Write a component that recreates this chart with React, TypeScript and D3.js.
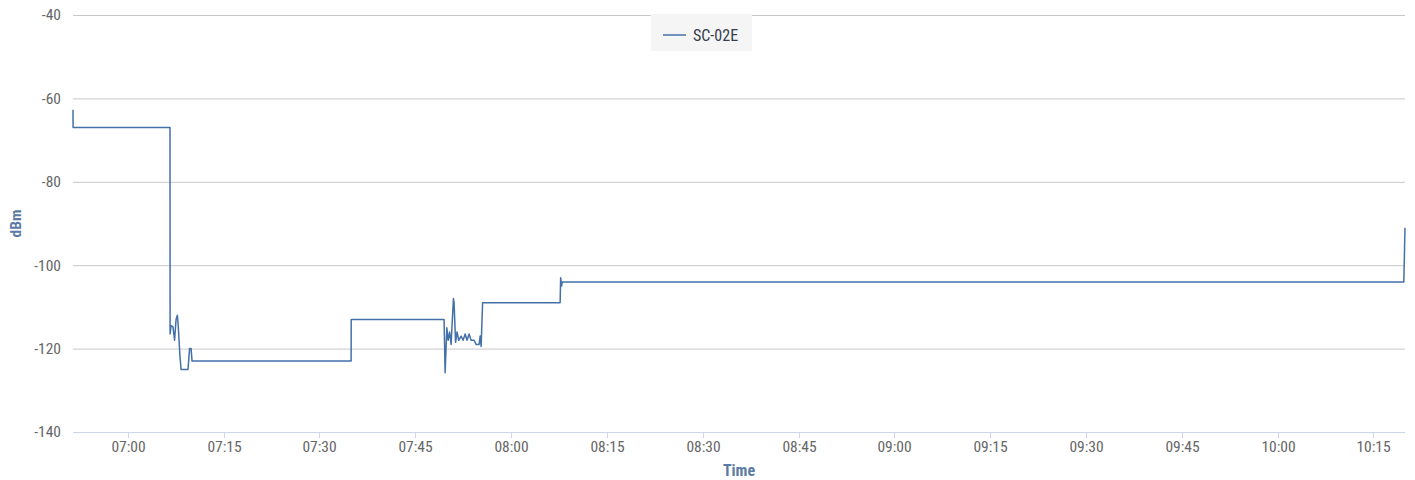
import * as d3 from "d3";
import { useEffect, useRef } from "react";

// Signal readings for SC-02E (time of day, dBm).
const times = [
  "06:51:26", "06:51:27", "07:06:37", "07:06:38", "07:06:47", "07:07:05", "07:07:20",
  "07:07:34", "07:07:46", "07:07:53", "07:08:11", "07:08:21", "07:09:26", "07:09:41",
  "07:09:55", "07:10:04", "07:34:58", "07:34:59", "07:49:31", "07:49:41", "07:49:57",
  "07:50:09", "07:50:23", "07:50:37", "07:50:59", "07:51:05", "07:51:19", "07:51:33",
  "07:51:48", "07:52:11", "07:52:30", "07:52:49", "07:53:07", "07:53:26", "07:53:45",
  "07:54:13", "07:54:32", "07:55:00", "07:55:10", "07:55:19", "07:55:33", "08:07:41",
  "08:07:46", "08:07:55", "08:08:00", "10:19:45", "10:19:56",
];
const values = [
  -62.7, -67, -67, -116.5, -114.5, -114.8, -118,
  -113, -112, -114, -122, -125, -125, -120,
  -120, -123, -123, -113, -113, -125.8, -115,
  -118, -116, -119, -108, -109, -118.5, -116,
  -118, -117, -118, -116.5, -118, -116.5, -118,
  -118, -119, -119, -117, -119.5, -109, -109,
  -103, -105, -104, -104, -91,
];
const yTicks = [-140, -120, -100, -80, -60, -40];
const seriesName = "SC-02E";

const W = 1415;
const H = 480;
const margin = { top: 15, right: 10, bottom: 48, left: 73 };
const FONT = "'Roboto Condensed', 'Liberation Sans Narrow', 'DejaVu Sans Condensed', Roboto, sans-serif";

const parse = d3.timeParse("%H:%M:%S");

export default function App() {
  const svgRef = useRef<SVGSVGElement>(null);

  useEffect(() => {
    document.body.style.margin = "0";
    if (!svgRef.current) return;
    const data = times.map((t, i) => ({ t: parse(t) as Date, v: values[i] }));
    const innerW = W - margin.left - margin.right;
    const innerH = H - margin.top - margin.bottom;

    const x = d3.scaleTime().domain(d3.extent(data, (d) => d.t) as [Date, Date]).range([0, innerW]);
    const y = d3.scaleLinear().domain([-140, -40]).range([innerH, 0]);

    const svg = d3.select(svgRef.current);
    svg.selectAll("*").remove();
    const g = svg.append("g").attr("transform", `translate(${margin.left},${margin.top})`);

    // Horizontal grid + y labels
    yTicks.forEach((t) => {
      if (t !== -140) {
        g.append("line")
          .attr("x1", 0)
          .attr("x2", innerW)
          .attr("y1", y(t) + 0.5)
          .attr("y2", y(t) + 0.5)
          .attr("stroke", "#c8c8c8")
          .attr("stroke-width", 1);
      }
      g.append("text")
        .attr("x", -12)
        .attr("y", y(t))
        .attr("dy", "0.35em")
        .attr("text-anchor", "end")
        .attr("font-size", 15.5)
        .attr("fill", "#666666")
        .text(t);
    });

    // X axis line + ticks every 15 minutes
    g.append("line")
      .attr("x1", 0)
      .attr("x2", innerW)
      .attr("y1", innerH + 0.5)
      .attr("y2", innerH + 0.5)
      .attr("stroke", "#ccd6eb");
    const xt = x.ticks(d3.timeMinute.every(15)!);
    xt.forEach((t) => {
      const px = Math.round(x(t)) + 0.5;
      g.append("line")
        .attr("x1", px)
        .attr("x2", px)
        .attr("y1", innerH)
        .attr("y2", innerH + 6)
        .attr("stroke", "#ccd6eb");
      g.append("text")
        .attr("x", px)
        .attr("y", innerH + 20)
        .attr("text-anchor", "middle")
        .attr("font-size", 15.5)
        .attr("fill", "#666666")
        .text(d3.timeFormat("%H:%M")(t));
    });

    // Series line
    const line = d3
      .line<{ t: Date; v: number }>()
      .x((d) => x(d.t))
      .y((d) => y(d.v));
    g.append("path")
      .datum(data)
      .attr("d", line)
      .attr("fill", "none")
      .attr("stroke", "#4470a8")
      .attr("stroke-width", 1.5)
      .attr("stroke-linejoin", "round");

    // Axis titles
    svg.append("text")
      .attr("transform", `translate(21,${margin.top + innerH / 2}) rotate(-90)`)
      .attr("text-anchor", "middle")
      .attr("font-size", 15.5)
      .attr("font-weight", "bold")
      .attr("fill", "#5b7ba5")
      .text("dBm");
    svg.append("text")
      .attr("x", margin.left + innerW / 2)
      .attr("y", 476)
      .attr("text-anchor", "middle")
      .attr("font-size", 16)
      .attr("font-weight", "bold")
      .attr("fill", "#5b7ba5")
      .text("Time");

    // Legend
    const lg = svg.append("g").attr("transform", "translate(651,14)");
    lg.append("rect").attr("width", 101).attr("height", 37).attr("fill", "#f5f5f5");
    lg.append("line")
      .attr("x1", 12)
      .attr("x2", 35)
      .attr("y1", 21)
      .attr("y2", 21)
      .attr("stroke", "#4470a8")
      .attr("stroke-width", 1.5);
    lg.append("text")
      .attr("x", 42)
      .attr("y", 21)
      .attr("dy", "0.35em")
      .attr("font-size", 16)
      .attr("fill", "#333d4d")
      .text(seriesName);
  }, []);

  return (
    <svg
      ref={svgRef}
      width={W}
      height={H}
      viewBox={`0 0 ${W} ${H}`}
      style={{ display: "block", fontFamily: FONT }}
    />
  );
}
